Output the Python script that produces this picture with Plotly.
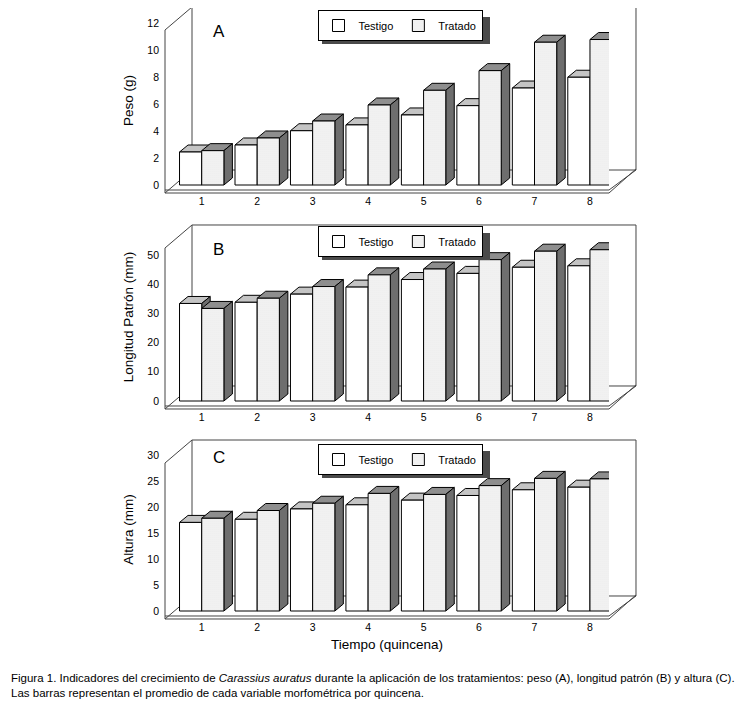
import plotly.graph_objects as go

# datos (promedio por quincena)
quincena = [1, 2, 3, 4, 5, 6, 7, 8]

peso_testigo = [2.45, 2.97, 4.03, 4.46, 5.2, 5.89, 7.2, 8.0]
peso_tratado = [2.55, 3.49, 4.75, 5.94, 7.03, 8.49, 10.6, 10.8]

long_testigo = [33.4, 33.8, 36.6, 39.0, 41.6, 43.7, 45.8, 46.3]
long_tratado = [31.7, 35.2, 39.2, 43.2, 45.2, 48.4, 51.3, 51.8]

alt_testigo = [17.1, 17.7, 19.7, 20.5, 21.4, 22.3, 23.4, 23.9]
alt_tratado = [17.9, 19.4, 20.8, 22.7, 22.5, 24.2, 25.6, 25.5]

peso_ticks = [0, 2, 4, 6, 8, 10, 12]
long_ticks = [0, 10, 20, 30, 40, 50]
alt_ticks = [0, 5, 10, 15, 20, 25, 30]

# la pagina tiene 8px de margen en el body
OX, OY = 8, 8
W, H = 736, 693
FONT = "Liberation Sans, Arial, sans-serif"

# geometria en pixeles de pantalla (plano frontal y profundidad del marco)
XL, XR = 165, 609
DX, DY = 27, 23
XRANGE = [0.338, 8.343]
LIFT = 8            # los bares estan un poco dentro del marco
BDX = 0.153         # profundidad del bar en unidades x
BDY_PX = 7

panels = [
    dict(label="A", title="Peso (g)", testigo=peso_testigo, tratado=peso_tratado,
         ticks=peso_ticks, yb=193, ppu=13.47, ftop=30, leg_top=10, lab_y=20),
    dict(label="B", title="Longitud Patrón (mm)", testigo=long_testigo, tratado=long_tratado,
         ticks=long_ticks, yb=409, ppu=2.92, ftop=248, leg_top=226, lab_y=238),
    dict(label="C", title="Altura (mm)", testigo=alt_testigo, tratado=alt_tratado,
         ticks=alt_ticks, yb=619, ppu=5.18, ftop=463, leg_top=444, lab_y=457),
]


def px(x, y):
    return (x - OX) / W, 1 - (y - OY) / H


def path(points, close=True):
    s = ""
    for i, (x, y) in enumerate(points):
        a, b = px(x, y)
        s += ("M" if i == 0 else "L") + f"{a:.5f},{b:.5f} "
    return s + ("Z" if close else "")


fig = go.Figure()
shapes = []
annotations = []
layout = {}

for k, p in enumerate(panels):
    n = "" if k == 0 else str(k + 1)
    xa, ya, leg = "x" + n, "y" + n, "legend" + n
    yb, ppu, ft = p["yb"], p["ppu"], p["ftop"]
    ytop = max(ft - DY, OY)

    fig.add_trace(go.Bar(
        x=quincena, y=p["testigo"], name="Testigo", width=0.4, offset=-0.4,
        marker=dict(color="white", line=dict(color="black", width=1)),
        xaxis=xa, yaxis=ya, legend=leg, hoverinfo="skip"))
    fig.add_trace(go.Bar(
        x=quincena, y=p["tratado"], name="Tratado", width=0.4, offset=0,
        marker=dict(color="#f2f2f2", line=dict(color="black", width=1),
                    pattern=dict(shape=".", size=2, solidity=0.3,
                                 fgcolor="#d2d2d2", bgcolor="#f4f4f4")),
        xaxis=xa, yaxis=ya, legend=leg, hoverinfo="skip"))

    x0d, _ = px(XL, 0)
    x1d, _ = px(XR, 0)
    _, y0d = px(0, yb)
    _, y1d = px(0, ytop)
    layout["xaxis" + n] = dict(
        domain=[x0d, x1d], range=XRANGE, anchor=ya,
        tickvals=quincena, showgrid=False, zeroline=False, showline=False,
        ticks="", tickfont=dict(size=10.5, color="black"))
    layout["yaxis" + n] = dict(
        domain=[y0d, min(y1d, 1.0)],
        range=[-LIFT / ppu, (yb - LIFT - ytop) / ppu], anchor=xa,
        tickvals=p["ticks"], showgrid=False, zeroline=False, showline=False,
        ticks="", ticklabelstandoff=5, tickfont=dict(size=10.5, color="black"),
        title=dict(text=p["title"], font=dict(size=13.5, color="black"), standoff=10))

    # marco 3D
    frame = dict(type="path", xref="paper", yref="paper", layer="below",
                 line=dict(color="#444", width=1))
    shapes.append(dict(frame, path=path([(XL + DX, ft - DY), (XR + DX, ft - DY),
                                         (XR + DX, yb - DY), (XL + DX, yb - DY)])))
    shapes.append(dict(frame, path=path([(XL + DX, ft - DY), (XL, ft), (XL, yb),
                                         (XL + DX, yb - DY)], close=False)))
    shapes.append(dict(frame, path=path([(XL, yb - 3), (XR, yb - 3), (XR + DX, yb - DY)],
                                        close=False)))
    shapes.append(dict(frame, path=path([(XL, yb), (XR, yb), (XR + DX, yb - DY - 1)],
                                        close=False)))

    # caras superior y lateral de cada bar
    bdy = BDY_PX / ppu
    for vals, off, top_col in [(p["testigo"], -0.4, "#c4c4c4"), (p["tratado"], 0.0, "#8e8e8e")]:
        for q, v in zip(quincena, vals):
            x0, x1 = q + off, q + off + 0.4
            face = dict(type="path", xref=xa, yref=ya, layer="below",
                        line=dict(color="black", width=1))
            shapes.append(dict(face, fillcolor=top_col,
                               path=f"M{x0},{v} L{x1},{v} L{x1 + BDX},{v + bdy} L{x0 + BDX},{v + bdy} Z"))
            shapes.append(dict(face, fillcolor="#6e6e6e",
                               path=f"M{x1},0 L{x1},{v} L{x1 + BDX},{v + bdy} L{x1 + BDX},{bdy} Z"))

    # leyenda con sombra
    lx, lt = 400, p["leg_top"]
    a, b = px(lx, lt)
    layout[leg] = dict(
        x=a, y=b, xanchor="center", yanchor="top",
        orientation="h", bgcolor="white", bordercolor="black", borderwidth=1,
        font=dict(size=11, color="black"), itemwidth=30, tracegroupgap=0)
    shapes.append(dict(type="path", xref="paper", yref="paper", layer="above",
                       fillcolor="#4a4a4a", line=dict(width=0),
                       path=path([(lx - 84 + 6, lt + 7), (lx + 84 + 6, lt + 7),
                                  (lx + 84 + 6, lt + 27 + 7), (lx - 84 + 6, lt + 27 + 7)])))

    a, b = px(211, p["lab_y"])
    annotations.append(dict(text=p["label"], x=a, y=b, xref="paper", yref="paper",
                            showarrow=False, font=dict(size=17, color="black")))

layout["xaxis3"]["title"] = dict(text="Tiempo (quincena)", font=dict(size=13.5, color="black"),
                                 standoff=8)

a, b = px(9, 685)
annotations.append(dict(
    text="Figura 1. Indicadores del crecimiento de <i>Carassius auratus</i> durante la aplicación "
         "de los tratamientos: peso (A), longitud patrón (B) y altura (C).<br>"
         "Las barras representan el promedio de cada variable morfométrica por quincena.",
    x=a, y=b, xref="paper", yref="paper", xanchor="left", yanchor="middle",
    align="left", showarrow=False, font=dict(size=11.5, color="black")))

fig.update_layout(
    width=W, height=H, margin=dict(l=0, r=0, t=0, b=0),
    paper_bgcolor="white", plot_bgcolor="rgba(0,0,0,0)",
    font=dict(family=FONT, color="black"),
    shapes=shapes, annotations=annotations, hovermode=False,
    **layout)

fig.write_html("out.html")
